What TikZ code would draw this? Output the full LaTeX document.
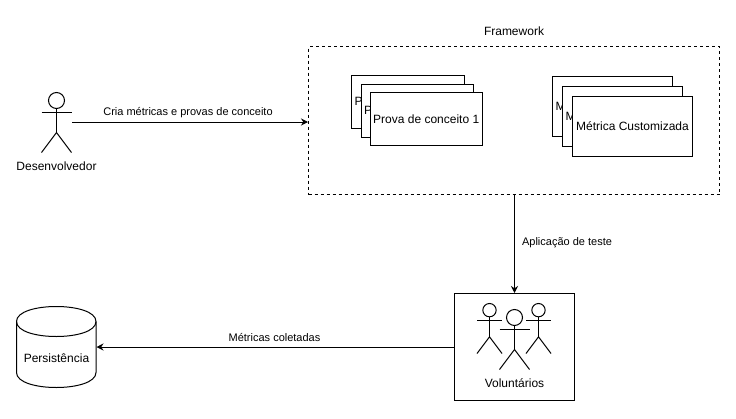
\documentclass[tikz,border=0pt]{standalone}
\usepackage{fontspec}
\setmainfont{Liberation Sans}
\usetikzlibrary{arrows.meta}
\tikzset{%
    every node/.style={font=\fontsize{12}{14}\selectfont},
    small text/.style={font=\fontsize{11}{13}\selectfont},
    link/.style={-{Stealth[length=7pt,width=7pt]}},
    prova/.style={draw, fill=white, inner xsep=3pt, minimum width=112.5pt, minimum height=53pt},
    metrica/.style={draw, fill=white, inner xsep=3pt, minimum width=120pt, minimum height=60pt},
    behind/.style={align=left},
    actor/.pic={
        \draw (0,8) circle[radius=8];
        \draw (0,16) -- (0,40);
        \draw (-15,20) -- (15,20);
        \draw (-15,60) -- (0,40) -- (15,60);
    },
}

\begin{document}
\begin{tikzpicture}[x=1pt, y=-1pt, line width=1pt]
	\useasboundingbox (0,0) rectangle (736,418);

	\node[draw, dash pattern=on 3pt off 3pt, minimum width=411pt, minimum height=148pt] (framework) at (514,120.5) {};
	\node (frameworklabel) at (514,31) {Framework};

	\node[prova, behind, text width=106.5pt] (prova3) at (407.75,101.5) {P};
	\node[prova, behind, text width=106.5pt] (prova2) at (417.25,110.5) {P};
	\node[prova] (prova1) at (426.25,119.25) {Prova de conceito 1};

	\node[metrica, behind, text width=114pt] (metrica3) at (612.5,106.5) {M};
	\node[metrica, behind, text width=114pt] (metrica2) at (622.5,116.5) {M};
	\node[metrica] (metrica1) at (632.5,126.5) {Métrica Customizada};

	\pic at (56.5,92.5) {actor};
	\node (dev) at (56.5,166) {Desenvolvedor};
	\coordinate (devout) at (72,122);

	\node[draw, minimum width=120pt, minimum height=107pt] (voluntarios) at (514.5,347) {};
	\pic[scale=5/6] at (489.5,303.5) {actor};
	\pic[scale=5/6] at (538.5,303.5) {actor};
	\pic at (514.5,309.5) {actor};
	\node (voluntarioslabel) at (514.5,383) {Voluntários};

	% cylinder, size 15
	\node[minimum width=79.5pt, minimum height=81pt] (persistencia) at (56.25,347) {};
	\draw (16.5,321.5) .. controls (16.5,301.5) and (96,301.5) .. (96,321.5)
		-- (96,372.5) .. controls (96,392.5) and (16.5,392.5) .. (16.5,372.5) -- cycle;
	\draw (16.5,321.5) .. controls (16.5,341.5) and (96,341.5) .. (96,321.5);
	\node (persistencialabel) at (56.5,358) {Persistência};

	\draw[link] (devout) -- (devout -| framework.west);
	\draw[link] (framework.south -| voluntarios.north) -- (voluntarios.north);
	\draw[link] (voluntarios.west) -- (persistencia.east);

	\node[small text] (cria) at (188,112.5) {Cria métricas e provas de conceito};
	\node[small text] (aplicacao) at (567,243) {Aplicação de teste};
	\node[small text] (coletadas) at (274.5,337.5) {Métricas coletadas};
\end{tikzpicture}
\end{document}
